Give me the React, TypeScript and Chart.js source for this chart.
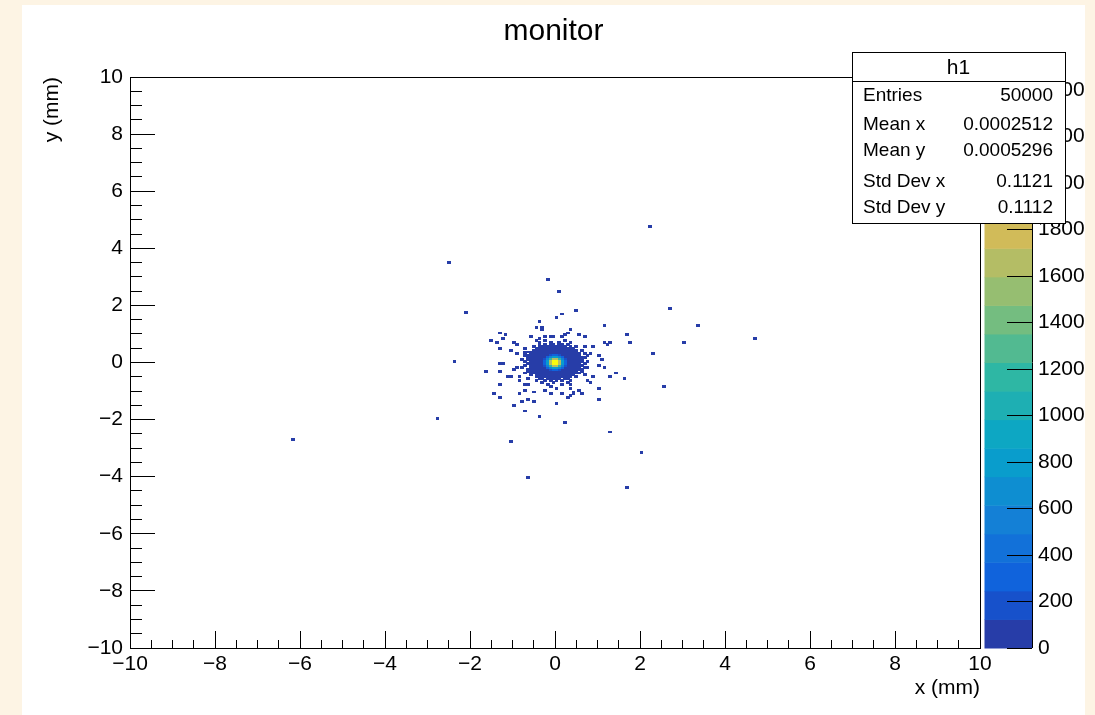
import React, { useEffect, useRef } from 'react';
import { Chart, registerables } from 'chart.js';

Chart.register(...registerables);

// ---------- texts ----------
const TITLE = 'monitor';
const X_TITLE = 'x (mm)';
const Y_TITLE = 'y (mm)';
const STATS_TITLE = 'h1';
const STATS_LABELS = ['Entries', 'Mean x', 'Mean y', 'Std Dev x', 'Std Dev y'];
const STATS_VALUES = ['50000', '0.0002512', '0.0005296', '0.1121', '0.1112'];

// ---------- axes ----------
const AXIS_MIN = -10;
const AXIS_MAX = 10;
const MAJOR_STEP = 2;
const MINOR_STEP = 0.5;
const N_BINS = 300;
const Z_MAX = 2456;
const N_LEVELS = 20;
const Z_STEP = 200;

// ---------- data: 2D histogram ----------
// core region, bin indices: columns start at x-bin -12, rows start at y-bin 11 (top) going down
const CORE_FIRST_XBIN = -12;
const CORE_TOP_YBIN = 11;
const CORE_COUNTS: number[][] = [
  [0,0,0,0,0,0,0,0,1,0,0,0,0,0,0,1,0,0,0,0,0,0,0,0],
  [0,0,0,0,0,0,1,0,0,0,1,0,0,1,0,0,0,1,0,0,0,0,0,0],
  [0,0,0, 0,0,0,1,0,1,0,1,1, 0,1,1,0,1,0,0,0,0, 0,0,0],
  [0,0,0, 0,1,0,1,1,1,1,1,1, 1,1,1,1,0,1,0,1,0, 0,0,0],
  [0,1,0, 0,0,1,1,1,1,2,2,3, 3,2,2,1,1,1,1,0,0, 0,0,0],
  [0,0,0, 0,1,1,1,2,3,4,5,6, 6,5,4,3,2,1,1,1,0, 1,0,0],
  [0,0,1, 1,1,1,2,3,5,8,11,14, 14,11,8,5,3,2,1,1,0, 0,0,0],
  [0,1,0, 1,1,2,3,5,9,22,44,62, 62,44,22,9,5,3,2,1,1, 0,1,0],
  [0,1,1, 1,1,3,5,9,31,92,190,270, 270,190,92,31,9,5,3,1,1, 0,0,1],
  [0,0,1, 1,2,4,8,22,92,275,570,820, 820,570,275,92,22,8,4,2,1, 1,1,0],
  [1,0,1, 1,2,5,11,44,190,570,1180,1700, 1700,1180,570,190,44,11,5,2,1, 1,0,0],
  [0,1,0, 1,3,6,14,62,270,820,1700,2456, 2450,1700,820,270,62,14,6,3,1, 1,0,1],
  [0,0,1, 1,3,6,14,62,270,820,1700,2440, 2447,1700,820,270,62,14,6,3,1, 0,1,0],
  [0,1,0, 1,2,5,11,44,190,570,1180,1700, 1700,1180,570,190,44,11,5,2,1, 1,0,0],
  [1,0,0, 1,2,4,8,22,92,275,570,820, 820,570,275,92,22,8,4,2,1, 0,1,1],
  [0,0,1, 1,1,3,5,9,31,92,190,270, 270,190,92,31,9,5,3,1,1, 1,0,0],
  [0,0,1, 1,1,2,3,5,9,22,44,62, 62,44,22,9,5,3,2,1,0, 1,0,0],
  [0,1,0, 0,1,1,2,3,5,8,11,14, 14,11,8,5,3,2,1,1,1, 0,0,0],
  [0,0,0, 1,0,1,1,2,3,4,5,6, 6,5,4,3,2,1,1,0,0, 0,1,0],
  [0,0,0, 0,0,1,1,1,1,2,2,3, 3,2,2,1,1,1,0,1,0, 0,0,0],
  [0,0,1, 0,0,0,1,1,0,1,1,1, 1,1,0,1,1,0,0,0,0, 0,0,0],
  [0,0,0, 0,0,1,0,0,1,0,1,0, 1,0,1,0,0,1,0,0,0, 0,0,0],
  [0,0,0,0,0,0,0,1,0,0,0,1,0,0,0,0,1,0,0,0,0,0,0,0],
  [0,0,0,0,0,0,0,0,0,1,0,0,0,0,1,0,0,0,0,0,0,0,0,0],
];

// isolated single entries (mm)
const SPARSE_X = [
  2.24, -2.52, -0.14, 0.09, -2.09, 2.68, 3.36, 4.68, 3.04, 2.3, -2.35, 2.54, -2.8, -6.16, 0.24, -1.06, 1.32, 2.02, -0.64, 1.72,
  0.52, 0.16, 0.05, -0.39, 1.16, -0.45, -0.31, -0.28, 0.35, -1.27, -1.2, 1.69, -0.25, -0.12, -0.01, -0.55, -0.43, -0.35, 0.29, 0.26,
  0.56, 0.73, -1.48, -1.36, -1.24, -0.96, -0.92, -1.32, -1.04, -0.71, -0.89, 1.14, 1.28, 1.76, 0.92, 0.69, 0.84, 1.0, 1.08, -1.65,
  -1.33, -1.28, -1.23, -1.11, -1.04, -0.96, -0.92, 1.15, 1.0, 1.44, 1.61, 1.28, 1.04, 0.75, 0.85, -1.45, -1.27, -0.63, -0.51, -1.0,
  -0.76, -0.68, -0.35, 0.04, 0.29, 0.37, 0.4, 0.35, 0.45, 0.18, -0.09, -0.24, -0.47, 1.04, -0.82, -0.81, -0.69, -0.67, 0.59, 0.63,
  0.16, 1.24, -1.28, -0.84, 0.89, 0.37, -0.09, 0.0, -0.63,
];
const SPARSE_Y = [
  4.74, 3.52, 2.89, 2.5, 1.77, 1.87, 1.31, 0.82, 0.68, 0.3, 0.05, -0.82, -1.98, -2.68, -2.08, -2.75, -2.43, -3.2, -4.01, -4.4,
  1.81, 1.69, 1.58, 1.41, 1.29, 1.25, 1.25, 1.17, 1.16, 1.06, 0.94, 0.99, 0.9, 0.87, 0.9, 0.87, 0.79, 0.85, 1.04, 0.94,
  0.94, 0.9, 0.79, 0.71, 0.83, 0.71, 0.62, 0.53, 0.46, 0.38, 0.32, 0.71, 0.69, 0.71, 0.55, 0.55, 0.32, 0.23, 0.12, -0.29,
  -0.3, -0.03, -0.01, -0.53, -0.5, -0.26, -0.2, -0.18, -0.09, -0.34, -0.58, -0.5, -0.87, -0.64, -0.67, -1.1, -1.23, -1.31, -1.34, -1.5,
  -1.39, -1.7, -1.87, -1.46, -1.23, -1.2, -1.01, -0.9, -1.1, -1.1, -1.1, -0.94, -1.02, -1.29, -0.64, -0.5, -0.79, -0.94, -0.94, -1.08,
  0.88, 0.62, -0.78, -1.11, -0.47, -0.76, -0.83, -0.88, -0.74,
];

// ---------- style ----------
const FONT = '"Liberation Sans", Arial, Helvetica, sans-serif';
const PAGE_BG = '#fdf4e4';
const BIN_W = (AXIS_MAX - AXIS_MIN) / N_BINS;

// ROOT kBird palette stops
const BIRD_STOPS = [0, 0.125, 0.25, 0.375, 0.5, 0.625, 0.75, 0.875, 1];
const BIRD_R = [0.2082, 0.0592, 0.078, 0.0232, 0.1802, 0.5301, 0.8186, 0.9956, 0.9764];
const BIRD_G = [0.1664, 0.3599, 0.5041, 0.6419, 0.7178, 0.7492, 0.7328, 0.7862, 0.9832];
const BIRD_B = [0.5293, 0.8684, 0.8385, 0.7914, 0.6425, 0.4662, 0.3499, 0.1968, 0.0539];

function birdAt(f: number): string {
  let k = 0;
  while (k < BIRD_STOPS.length - 2 && f > BIRD_STOPS[k + 1]) k++;
  const t = (f - BIRD_STOPS[k]) / (BIRD_STOPS[k + 1] - BIRD_STOPS[k]);
  const c = (a: number[]) => Math.round(255 * (a[k] + (a[k + 1] - a[k]) * t));
  return `rgb(${c(BIRD_R)},${c(BIRD_G)},${c(BIRD_B)})`;
}
const LEVEL_COLORS: string[] = [];
for (let i = 0; i < N_LEVELS; i++) {
  const idx = Math.floor((i + 0.99) * 255 / N_LEVELS);
  LEVEL_COLORS.push(birdAt(Math.min(1, idx / 254)));
}
const levelOf = (v: number) => Math.min(N_LEVELS - 1, Math.floor((v / Z_MAX) * N_LEVELS));

type Bin = { x: number; y: number; v: number };
function buildBins(): Bin[] {
  const counts = new Map<string, number>();
  const add = (ix: number, iy: number, v: number) => {
    const key = ix + ',' + iy;
    counts.set(key, (counts.get(key) || 0) + v);
  };
  CORE_COUNTS.forEach((row, r) =>
    row.forEach((v, c) => {
      if (v > 0) add(CORE_FIRST_XBIN + c, CORE_TOP_YBIN - r, v);
    })
  );
  SPARSE_X.forEach((x, i) => add(Math.floor(x / BIN_W), Math.floor(SPARSE_Y[i] / BIN_W), 1));
  const out: Bin[] = [];
  counts.forEach((v, key) => {
    const [ix, iy] = key.split(',').map(Number);
    out.push({ x: (ix + 0.5) * BIN_W, y: (iy + 0.5) * BIN_W, v });
  });
  out.sort((a, b) => a.v - b.v);
  return out;
}

const minusFmt = (v: number | string) => {
  const n = Number(v);
  return n < 0 ? '\u2212' + Math.abs(n) : String(n);
};

const colorbarPlugin = {
  id: 'colorbar',
  beforeDraw(chart: any) {
    const { ctx, chartArea } = chart;
    const z = chart.scales.z;
    const x0 = chartArea.right + 4.5;
    const x1 = z.left + 25;
    ctx.save();
    for (let i = 0; i < N_LEVELS; i++) {
      const yb = z.getPixelForValue((i * Z_MAX) / N_LEVELS);
      const yt = z.getPixelForValue(((i + 1) * Z_MAX) / N_LEVELS);
      ctx.fillStyle = LEVEL_COLORS[i];
      ctx.fillRect(x0, yt, x1 - x0, yb - yt + 0.5);
    }
    ctx.strokeStyle = '#000';
    ctx.lineWidth = 1;
    ctx.beginPath();
    ctx.moveTo(Math.round(x1) + 0.5, z.top);
    ctx.lineTo(Math.round(x1) + 0.5, z.bottom);
    ctx.stroke();
    ctx.restore();
  },
};

const histPlugin = {
  id: 'hist2d',
  afterDatasetsDraw(chart: any) {
    const { ctx } = chart;
    const xs = chart.scales.x;
    const ys = chart.scales.y;
    const data = chart.data.datasets[0].data as Bin[];
    ctx.save();
    for (const b of data) {
      const x0 = Math.floor(xs.getPixelForValue(b.x - BIN_W / 2));
      const x1 = Math.ceil(xs.getPixelForValue(b.x + BIN_W / 2));
      const y0 = Math.floor(ys.getPixelForValue(b.y + BIN_W / 2));
      const y1 = Math.ceil(ys.getPixelForValue(b.y - BIN_W / 2));
      ctx.fillStyle = LEVEL_COLORS[levelOf(b.v)];
      ctx.fillRect(x0, y0, x1 - x0, y1 - y0);
    }
    ctx.restore();
  },
};

const framePlugin = {
  id: 'frameAndStats',
  afterDraw(chart: any) {
    const { ctx, chartArea } = chart;
    ctx.save();
    ctx.strokeStyle = '#000';
    ctx.lineWidth = 1;
    ctx.strokeRect(
      Math.round(chartArea.left) + 0.5,
      Math.round(chartArea.top) + 0.5,
      Math.round(chartArea.right) - Math.round(chartArea.left),
      Math.round(chartArea.bottom) - Math.round(chartArea.top)
    );
    // stats box
    const bx = Math.round(chartArea.right) - 128;
    const by = Math.round(chartArea.top) - 25;
    const bw = 213;
    const bh = 171;
    ctx.fillStyle = '#fff';
    ctx.fillRect(bx, by, bw, bh);
    ctx.strokeRect(bx + 0.5, by + 0.5, bw, bh);
    ctx.beginPath();
    ctx.moveTo(bx, by + 29.5);
    ctx.lineTo(bx + bw, by + 29.5);
    ctx.stroke();
    ctx.fillStyle = '#000';
    ctx.textBaseline = 'middle';
    ctx.textAlign = 'center';
    ctx.font = `21px ${FONT}`;
    ctx.fillText(STATS_TITLE, bx + bw / 2, by + 16);
    ctx.font = `19px ${FONT}`;
    const rowY = [44, 73, 99, 130, 156];
    STATS_LABELS.forEach((lab, i) => {
      ctx.textAlign = 'left';
      ctx.fillText(lab, bx + 11, by + rowY[i]);
      ctx.textAlign = 'right';
      ctx.fillText(STATS_VALUES[i], bx + bw - 12, by + rowY[i]);
    });
    ctx.restore();
  },
};

export default function App() {
  const ref = useRef<HTMLCanvasElement>(null);
  useEffect(() => {
    const tickFont = { family: FONT, size: 21 };
    const chart = new Chart(ref.current as HTMLCanvasElement, {
      type: 'scatter',
      data: {
        datasets: [
          {
            label: 'h1',
            data: buildBins() as any,
            pointRadius: 0,
            pointHoverRadius: 0,
          },
        ],
      },
      options: {
        responsive: false,
        animation: false,
        events: [],
        layout: { padding: 0 },
        plugins: {
          legend: { display: false },
          tooltip: { enabled: false },
          title: {
            display: true,
            text: TITLE,
            color: '#000',
            font: { family: FONT, size: 30, weight: 'normal' },
            padding: { top: 9, bottom: 27 },
          },
        },
        scales: {
          x: {
            type: 'linear',
            position: 'bottom',
            weight: 1,
            min: AXIS_MIN,
            max: AXIS_MAX,
            ticks: {
              stepSize: MAJOR_STEP,
              font: tickFont,
              color: '#000',
              padding: 21,
              maxRotation: 0,
              autoSkip: false,
              callback: (v: any) => minusFmt(v),
            },
            grid: { display: true, drawOnChartArea: false, drawTicks: true, tickLength: -17, tickColor: '#000', tickWidth: 1 },
            border: { display: false },
            title: {
              display: true,
              text: X_TITLE,
              align: 'end',
              color: '#000',
              font: tickFont,
              padding: { top: 0, bottom: 14 },
            },
            afterFit: (s: any) => {
              s.height = 67;
            },
          },
          x2: {
            type: 'linear',
            axis: 'x',
            position: 'bottom',
            weight: 0,
            min: AXIS_MIN,
            max: AXIS_MAX,
            ticks: { stepSize: MINOR_STEP, display: false, autoSkip: false },
            grid: { display: true, drawOnChartArea: false, drawTicks: true, tickLength: -8, tickColor: '#000', tickWidth: 1 },
            border: { display: false },
            afterFit: (s: any) => {
              s.height = 0;
            },
          },
          y: {
            type: 'linear',
            position: 'left',
            weight: 1,
            min: AXIS_MIN,
            max: AXIS_MAX,
            ticks: {
              stepSize: MAJOR_STEP,
              font: tickFont,
              color: '#000',
              padding: 32,
              autoSkip: false,
              callback: (v: any) => minusFmt(v),
            },
            grid: { display: true, drawOnChartArea: false, drawTicks: true, tickLength: -25, tickColor: '#000', tickWidth: 1 },
            border: { display: false },
            title: {
              display: true,
              text: Y_TITLE,
              align: 'end',
              color: '#000',
              font: tickFont,
              padding: { top: 18, bottom: 0 },
            },
            afterFit: (s: any) => {
              s.width = 108;
            },
          },
          y2: {
            type: 'linear',
            axis: 'y',
            position: 'left',
            weight: 0,
            min: AXIS_MIN,
            max: AXIS_MAX,
            ticks: { stepSize: MINOR_STEP, display: false, autoSkip: false },
            grid: { display: true, drawOnChartArea: false, drawTicks: true, tickLength: -12, tickColor: '#000', tickWidth: 1 },
            border: { display: false },
            afterFit: (s: any) => {
              s.width = 0;
            },
          },
          zgap: {
            type: 'linear',
            axis: 'y',
            position: 'right',
            weight: 0,
            ticks: { display: false },
            grid: { display: false },
            border: { display: false },
            afterFit: (s: any) => {
              s.width = 27;
            },
          },
          z: {
            type: 'linear',
            axis: 'y',
            position: 'right',
            weight: 1,
            min: 0,
            max: Z_MAX,
            ticks: {
              stepSize: Z_STEP,
              includeBounds: false,
              font: tickFont,
              color: '#000',
              padding: 6,
              autoSkip: false,
              callback: (v: any) => String(v),
            },
            grid: { display: true, drawOnChartArea: false, drawTicks: true, tickLength: 25, tickColor: '#000', tickWidth: 1 },
            border: { display: false },
            afterFit: (s: any) => {
              s.width = 78;
            },
          },
        } as any,
      },
      plugins: [colorbarPlugin, histPlugin, framePlugin],
    } as any);
    return () => chart.destroy();
  }, []);

  return (
    <div style={{ position: 'fixed', left: 0, top: 0, width: 1095, height: 715, background: PAGE_BG, overflow: 'hidden' }}>
      <div style={{ position: 'absolute', left: 22, top: 5, width: 1063, height: 710, background: '#fff' }}>
        <canvas ref={ref} width={1063} height={710} style={{ display: 'block', width: 1063, height: 710 }} />
      </div>
    </div>
  );
}
